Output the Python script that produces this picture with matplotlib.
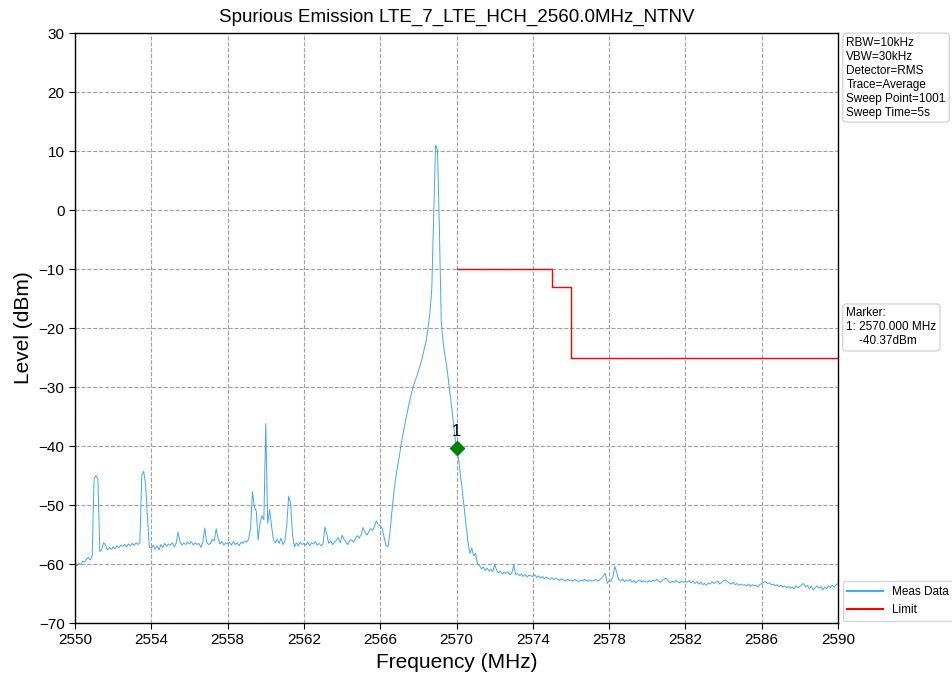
import numpy as np
import matplotlib
matplotlib.use('Agg')
import matplotlib.pyplot as plt

plt.rcParams['font.family'] = ['Liberation Sans', 'DejaVu Sans']

# sweep: 2550-2590 MHz, one reading every 0.1 MHz
f_start, f_stop = 2550.0, 2590.0
levels = [
    -59.8, -60.3, -59.9, -60.1, -59.5, -59.7, -59.2, -58.9, -59.3, -58.6,   # 2550
    -45.5, -45.0, -45.6, -57.9, -57.5, -56.4, -56.8, -57.6, -57.2, -57.5,   # 2551
    -57.1, -57.4, -56.9, -57.2, -56.8, -57.0, -56.7, -57.1, -56.6, -56.9,   # 2552
    -56.5, -56.8, -56.4, -56.7, -56.3, -45.0, -44.3, -46.5, -52.2, -57.2,   # 2553
    -57.3, -56.8, -57.5, -56.9, -57.6, -56.7, -57.2, -56.5, -57.0, -56.6,   # 2554
    -56.8, -56.4, -57.1, -56.5, -54.6, -56.2, -56.8, -56.4, -56.7, -56.3,   # 2555
    -56.6, -56.2, -56.8, -56.4, -56.7, -56.5, -57.2, -56.3, -53.9, -56.3,   # 2556
    -56.7, -56.5, -55.8, -56.1, -54.0, -55.6, -56.6, -56.2, -56.8, -56.4,   # 2557
    -56.6, -56.3, -56.8, -56.2, -56.7, -56.4, -56.9, -56.3, -56.5, -56.1,   # 2558
    -56.3, -55.8, -54.0, -47.7, -50.3, -51.0, -55.9, -53.0, -51.8, -52.5,   # 2559
    -36.2, -53.1, -50.8, -53.5, -55.9, -56.4, -55.8, -56.5, -55.6, -56.7,   # 2560
    -56.2, -53.5, -48.5, -49.6, -55.0, -57.1, -56.4, -56.9, -56.3, -56.7,   # 2561
    -56.5, -56.8, -56.3, -56.9, -56.4, -56.6, -56.2, -56.8, -56.5, -56.9,   # 2562
    -56.6, -53.7, -55.0, -56.5, -56.1, -56.7, -56.3, -56.0, -55.5, -56.4,   # 2563
    -55.1, -55.8, -56.2, -56.7, -56.0, -55.9, -56.3, -55.7, -55.2, -55.6,   # 2564
    -55.0, -53.8, -54.6, -55.1, -54.5, -54.0, -54.3, -53.6, -52.7, -53.3,   # 2565
    -53.5, -54.0, -55.4, -56.8, -57.1, -55.0, -51.5, -48.3, -45.6, -43.6,   # 2566
    -41.8, -39.6, -37.8, -36.2, -34.6, -33.0, -31.6, -30.3, -29.2, -28.3,   # 2567
    -27.3, -26.2, -25.1, -23.6, -22.3, -20.2, -17.5, -13.6, -1.5, 11.0,     # 2568
    10.2, -3.0, -19.0, -22.5, -24.8, -26.8, -29.5, -32.3, -35.0, -38.0,     # 2569
    -40.4, -42.0, -44.8, -47.4, -50.5, -53.5, -56.2, -58.2, -57.3, -58.6,   # 2570
    -58.2, -60.0, -60.3, -60.8, -60.5, -61.1, -60.7, -61.2, -60.9, -61.3,   # 2571
    -60.1, -61.0, -61.5, -61.2, -61.7, -61.4, -61.6, -61.3, -61.8, -61.5,   # 2572
    -60.2, -61.8, -61.6, -62.0, -61.7, -62.1, -61.8, -62.2, -61.9, -62.0,   # 2573
    -62.1, -61.8, -62.3, -62.0, -62.4, -62.1, -62.5, -62.2, -62.4, -62.6,   # 2574
    -62.3, -62.7, -62.4, -62.6, -62.8, -62.5, -62.7, -62.9, -62.6, -62.8,   # 2575
    -62.7, -62.9, -62.6, -62.8, -63.0, -62.7, -62.9, -62.6, -62.8, -62.9,   # 2576
    -62.7, -62.9, -62.8, -62.6, -62.9, -62.7, -62.4, -62.0, -61.6, -63.3,   # 2577
    -62.8, -62.9, -62.1, -60.4, -61.5, -62.6, -62.9, -62.5, -63.0, -62.7,   # 2578
    -62.9, -62.6, -63.1, -62.8, -63.2, -62.9, -62.7, -63.1, -62.8, -63.0,   # 2579
    -63.1, -62.8, -63.0, -62.7, -62.9, -62.6, -62.9, -63.1, -62.7, -62.5,   # 2580
    -62.4, -62.9, -63.2, -62.9, -63.1, -62.8, -63.0, -63.2, -62.9, -63.1,   # 2581
    -63.0, -63.1, -62.8, -63.2, -62.9, -63.3, -63.0, -63.4, -63.1, -63.5,   # 2582
    -63.3, -63.6, -63.2, -63.4, -63.0, -63.3, -63.1, -62.9, -63.4, -63.1,   # 2583
    -62.8, -62.7, -63.0, -63.2, -63.4, -63.1, -63.5, -63.3, -63.6, -63.4,   # 2584
    -63.6, -63.5, -63.7, -63.4, -63.8, -63.5, -63.7, -63.6, -63.9, -63.5,   # 2585
    -63.3, -63.1, -63.0, -63.3, -63.2, -63.5, -63.4, -63.7, -63.5, -63.8,   # 2586
    -63.6, -63.9, -63.7, -64.0, -63.8, -64.1, -63.9, -64.2, -63.7, -64.0,   # 2587
    -63.8, -63.5, -63.3, -63.9, -63.6, -64.2, -63.8, -64.4, -64.0, -63.7,   # 2588
    -64.1, -63.8, -64.4, -63.9, -64.2, -63.7, -64.0, -63.6, -63.9, -63.5,   # 2589
    -63.3,
]
freqs = np.linspace(f_start, f_stop, len(levels))

# limit mask
limit_f = [2570, 2575, 2575, 2576, 2576, 2590]
limit_lv = [-10, -10, -13, -13, -25, -25]

marker_f = 2570.000
marker_lv = -40.37

settings = ['RBW=10kHz', 'VBW=30kHz', 'Detector=RMS', 'Trace=Average',
            'Sweep Point=1001', 'Sweep Time=5s']

fig = plt.figure(figsize=(9.52, 6.91), dpi=100)
ax = fig.add_axes([0.0788, 0.0984, 0.8015, 0.8536])

ax.plot(freqs, levels, color='#45a5ee', lw=0.7, label='Meas Data')
ax.plot(limit_f, limit_lv, color='red', lw=1.0, label='Limit')
ax.plot(marker_f, marker_lv, marker='D', color='green', ms=7, ls='none')
ax.annotate('1', (marker_f, marker_lv), xytext=(0, 7), textcoords='offset points',
            ha='center', va='bottom', fontsize=12)

ax.set_xlim(f_start, f_stop)
ax.set_ylim(-70, 30)
ax.set_xticks(np.arange(2550, 2591, 4))
ax.set_yticks(np.arange(-70, 31, 10))
ax.tick_params(labelsize=11, direction='out', length=4)
ax.grid(True, ls='--', color='#a0a0a0', lw=0.8)
for s in ax.spines.values():
    s.set_color('black')
    s.set_linewidth(1.0)

ax.set_title('Spurious Emission LTE_7_LTE_HCH_2560.0MHz_NTNV', fontsize=13.5, pad=8)
ax.set_xlabel('Frequency (MHz)', fontsize=15)
ax.set_ylabel('Level (dBm)', fontsize=15)

box = dict(boxstyle='round,pad=0.3', fc='white', ec='#cccccc', lw=0.8)
fig.text(0.889, 0.947, '\n'.join(settings), fontsize=8.5, va='top', ha='left',
         linespacing=1.22, bbox=box)
fig.text(0.889, 0.555, 'Marker:\n1: %.3f MHz\n    %.2fdBm' % (marker_f, marker_lv),
         fontsize=8.5, va='top', ha='left', linespacing=1.22, bbox=box)

leg = ax.legend(loc='lower left', bbox_to_anchor=(1.003, 0.0), fontsize=8.5,
                frameon=True, borderaxespad=0.2, handlelength=3.0)
for h in leg.get_lines():
    h.set_linewidth(1.5)

fig.savefig('out.png', dpi=100)
